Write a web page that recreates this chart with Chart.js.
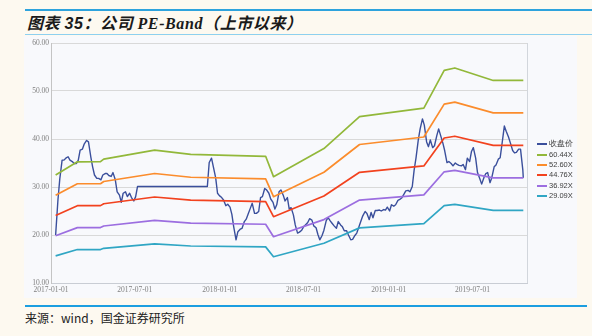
<!DOCTYPE html>
<html>
<head>
<meta charset="utf-8">
<script src="https://cdn.jsdelivr.net/npm/chart.js@4.4.1/dist/chart.umd.min.js"></script>
<style>
html,body{margin:0;padding:0;}
body{width:592px;height:336px;background:#fdf9f0;position:relative;overflow:hidden;font-family:'Noto Sans CJK SC',sans-serif;}
#topline{position:absolute;left:25px;top:9px;width:567px;height:2px;background:#2ea3dd;}
#title{position:absolute;left:27px;top:11px;height:22px;line-height:22px;font-size:16px;letter-spacing:0.6px;font-weight:bold;font-style:italic;color:#1a1a1a;white-space:nowrap;}
#title .num{font-family:'Liberation Sans',sans-serif;}
#title .lat{font-family:'Liberation Serif',serif;}
#titleline{position:absolute;left:25px;top:34px;width:567px;height:1px;background:#8dd0f0;}
#panel{position:absolute;left:24px;top:36px;width:553px;height:262px;background:#f8f9fc;}
#panel canvas{position:absolute;left:0;top:0;}
#legend{position:absolute;left:537px;top:139px;}
#legend .row{height:10.4px;display:flex;align-items:center;white-space:nowrap;}
#legend .sw{display:inline-block;width:10px;height:2px;margin-right:2px;}
#legend .tx{font-family:'Liberation Sans',sans-serif;font-size:7.5px;color:#404040;line-height:10px;}
#footline{position:absolute;left:25px;top:305px;width:562px;height:2px;background:#1c9ee0;}
#source{position:absolute;left:25px;top:310px;font-size:12px;line-height:16px;color:#222;}
</style>
</head>
<body>
<div id="topline"></div>
<div id="title">图表 <span class="num">35</span>：公司 <span class="lat">PE-Band</span>（上市以来）</div>
<div id="titleline"></div>
<div id="panel"><canvas id="c" width="553" height="262"></canvas></div>
<div id="legend"></div>
<div id="footline"></div>
<div id="source">来源：wind，国金证券研究所</div>
<script>
// x values are days since 2017-01-01
const tickDays = [0, 181, 365, 546, 730, 911];
const tickLabels = ['2017-01-01','2017-07-01','2018-01-01','2018-07-01','2019-01-01','2019-07-01'];

const closeDay = [10,15,19,24,28,32,37,41,46,50,55,59,63,68,72,77,81,86,90,94,
99,103,108,112,117,121,125,130,134,139,143,148,152,156,161,165,170,174,179,183,187,
338,342,347,351,356,360,364,369,373,378,382,387,391,395,400,404,409,413,418,422,426,
431,435,440,444,449,453,457,462,466,471,475,480,484,488,493,497,502,506,511,515,519,
524,528,533,537,542,546,550,555,559,564,568,573,577,581,586,590,595,599,604,608,612,
617,621,626,630,634,639,643,648,652,657,661,665,670,674,679,683,688,692,696,701,705,
710,714,719,723,727,732,736,741,745,750,754,758,763,767,772,776,781,785,789,794,798,
803,807,812,816,820,825,829,834,838,843,847,851,856,860,865,869,874,878,882,887,891,
896,900,905,909,913,918,922,927,931,936,940,944,949,953,958,962,967,971,975,980,984,
989,993,998,1002,1006,1011,1015,1020,1021];
const closePrice = [20.0,27.3,31.7,35.6,35.6,36.0,36.3,35.6,35.3,34.9,34.9,35.6,37.7,37.9,39.0,39.7,39.4,36.3,34.2,32.5,
31.8,31.8,31.5,32.5,32.8,32.8,32.4,32.2,33.0,31.5,29.0,28.3,26.8,28.7,29.0,28.0,28.7,27.8,27.1,28.0,30.1,
30.1,35.1,36.0,34.2,31.9,28.7,28.2,27.8,27.3,26.1,26.4,25.8,24.3,21.7,19.0,20.7,21.2,21.4,22.8,23.3,24.3,
25.6,26.6,24.5,24.5,24.9,27.8,28.0,29.7,29.4,28.7,27.5,26.8,25.4,26.3,29.0,29.4,28.3,27.1,27.8,25.4,25.7,
24.2,22.1,20.4,20.6,21.0,21.7,22.1,22.6,23.4,23.1,21.9,21.5,20.1,19.0,19.9,21.0,23.0,23.6,22.9,22.4,21.9,
21.4,22.8,22.1,21.7,20.9,20.9,20.0,19.0,19.1,19.9,20.4,21.5,22.9,24.0,24.9,24.5,23.2,24.7,23.6,25.1,25.1,
25.2,25.0,25.3,25.2,25.8,25.0,26.3,26.0,26.3,27.2,27.4,27.7,28.5,29.2,29.3,29.0,30.1,33.5,36.0,39.8,42.1,
44.2,42.9,39.4,38.4,39.8,38.2,38.6,40.7,42.1,40.5,39.2,37.6,35.1,35.3,34.9,34.4,35.0,34.7,34.5,34.4,34.7,
33.6,36.0,35.3,37.4,38.2,36.0,33.0,31.7,30.6,32.0,32.8,33.0,30.9,32.0,34.2,34.6,35.8,36.1,39.0,42.7,41.6,
40.4,39.2,37.6,37.1,37.2,37.9,37.9,33.5,31.9];

const bandDay = [10, 57, 107, 114, 224, 302, 464, 481, 590, 667, 806, 850, 873, 956, 1021];
const pe6044 = [32.50, 35.25, 35.27, 35.80, 37.70, 36.80, 36.40, 32.15, 38.00, 44.65, 46.45, 54.30, 54.80, 52.20, 52.20];
const pe5260 = [28.28, 30.68, 30.69, 31.15, 32.81, 32.03, 31.68, 27.98, 33.07, 38.86, 40.42, 47.26, 47.69, 45.43, 45.43];
const pe4476 = [24.07, 26.10, 26.12, 26.51, 27.92, 27.25, 26.96, 23.81, 28.14, 33.06, 34.40, 40.21, 40.58, 38.66, 38.66];
const pe3692 = [19.85, 21.53, 21.54, 21.87, 23.03, 22.48, 22.24, 19.64, 23.21, 27.27, 28.37, 33.17, 33.48, 31.89, 31.89];
const pe2909 = [15.64, 16.97, 16.97, 17.23, 18.15, 17.71, 17.52, 15.47, 18.29, 21.49, 22.36, 26.13, 26.38, 25.13, 25.13];

const seriesNames = ['收盘价', '60.44X', '52.60X', '44.76X', '36.92X', '29.09X'];
const seriesColors = ['#3a4f9c', '#92b83a', '#fb8c2c', '#f2421e', '#9c6ee0', '#30a6c4'];

function pts(days, vals) { return days.map((d, i) => ({x: d, y: vals[i]})); }

const bandVals = [pe6044, pe5260, pe4476, pe3692, pe2909];
const datasets = [{
  label: seriesNames[0], data: pts(closeDay, closePrice), borderColor: seriesColors[0],
  borderWidth: 1.4, order: 1
}];
bandVals.forEach((v, i) => datasets.push({
  label: seriesNames[i + 1], data: pts(bandDay, v), borderColor: seriesColors[i + 1],
  borderWidth: 1.7, order: 0
}));

const tickFont = {family: "'Liberation Serif', serif", size: 7.5};

new Chart(document.getElementById('c'), {
  type: 'line',
  data: {datasets},
  options: {
    responsive: false, animation: false, devicePixelRatio: 1,
    layout: {padding: {left: 0, right: 50, top: 7, bottom: 0}},
    elements: {point: {radius: 0}, line: {tension: 0, borderJoinStyle: 'round', fill: false}},
    plugins: {legend: {display: false}, tooltip: {enabled: false}},
    scales: {
      x: {
        type: 'linear', min: 0, max: 1029,
        afterBuildTicks: s => { s.ticks = tickDays.map(v => ({value: v})); },
        afterFit: s => { s.height = 15; },
        grid: {display: false, drawTicks: false},
        border: {display: true, color: '#c9cdd4'},
        ticks: {autoSkip: false, maxRotation: 0, padding: 3, color: '#808080', font: tickFont,
          callback: v => { const i = tickDays.indexOf(v); return i >= 0 ? tickLabels[i] : ''; }}
      },
      y: {
        min: 10, max: 60,
        afterFit: s => { s.width = 27; },
        grid: {color: '#d9d9d9', drawTicks: false},
        border: {display: true, color: '#c4c4c4'},
        ticks: {stepSize: 10, padding: 2, color: '#808080', font: tickFont,
          callback: v => Number(v).toFixed(2)}
      }
    }
  },
  plugins: [{
    id: 'frame',
    afterDraw(c) {
      const a = c.chartArea, g = c.ctx;
      g.save(); g.strokeStyle = '#d2d6dc'; g.lineWidth = 1;
      g.beginPath(); g.moveTo(Math.round(a.right) + 0.5, a.top); g.lineTo(Math.round(a.right) + 0.5, a.bottom); g.stroke();
      g.restore();
    }
  }]
});

const lg = document.getElementById('legend');
seriesNames.forEach((n, i) => {
  const r = document.createElement('div'); r.className = 'row';
  const s = document.createElement('span'); s.className = 'sw'; s.style.background = seriesColors[i];
  const t = document.createElement('span'); t.className = 'tx'; t.textContent = n;
  r.appendChild(s); r.appendChild(t); lg.appendChild(r);
});
</script>
</body>
</html>
